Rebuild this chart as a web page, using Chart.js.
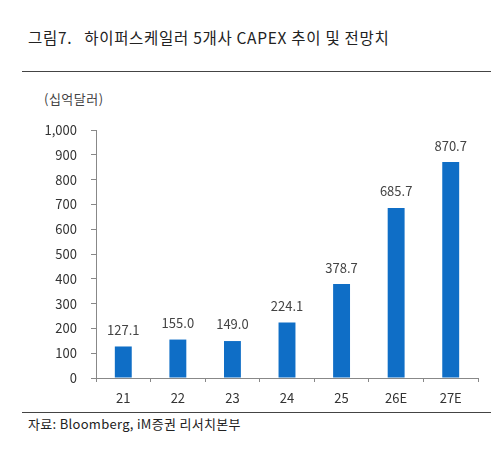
<!DOCTYPE html>
<html>
<head>
<meta charset="utf-8">
<script src="https://cdn.jsdelivr.net/npm/chart.js@4"></script>
<style>
  html, body { margin: 0; padding: 0; background: #fff; }
  body { width: 500px; height: 472px; position: relative; overflow: hidden; font-family: "Noto Sans CJK KR", "Noto Sans", sans-serif; color: #222; }
  #title { position: absolute; left: 28px; top: 26px; font-size: 15.5px; letter-spacing: 0.7px; white-space: pre; }
  #title span { margin-left: 12px; }
  .rule { position: absolute; left: 22px; width: 469px; height: 0; border-top: 1.5px solid #444; }
  #unit { position: absolute; left: 44px; top: 89px; font-size: 13px; color: #444; letter-spacing: 0.5px; }
  #source { position: absolute; left: 28px; top: 414px; font-size: 13px; color: #222; letter-spacing: 0.3px; }
  #wrap { position: absolute; left: 0; top: 0; width: 500px; height: 472px; }
</style>
</head>
<body>
<div id="title">그림7.<span>하이퍼스케일러 5개사 CAPEX 추이 및 전망치</span></div>
<div class="rule" style="top:71px"></div>
<div id="unit">(십억달러)</div>
<div class="rule" style="top:412px"></div>
<div id="source">자료: Bloomberg, iM증권 리서치본부</div>
<div id="wrap"><canvas id="chart" width="500" height="472"></canvas></div>
<script>
const years = ['21', '22', '23', '24', '25', '26E', '27E'];
const capex = [127.1, 155.0, 149.0, 224.1, 378.7, 685.7, 870.7];
const yMin = 0;
const yMax = 1000;
const yStep = 100;

const ctx = document.getElementById('chart').getContext('2d');

// 막대 위 값 표시
const valueLabels = {
    id: 'valueLabels',
    afterDatasetsDraw(chart) {
        const c = chart.ctx;
        const meta = chart.getDatasetMeta(0);
        c.save();
        c.font = '13px "Noto Sans CJK KR", "Noto Sans", sans-serif';
        c.fillStyle = '#444';
        c.textAlign = 'center';
        c.textBaseline = 'bottom';
        meta.data.forEach((bar, i) => {
            c.fillText(capex[i].toFixed(1), bar.x, bar.y - 10);
        });
        c.restore();
    }
};

new Chart(ctx, {
    type: 'bar',
    data: {
        labels: years,
        datasets: [{
            data: capex,
            backgroundColor: '#0f6ec6',
            barPercentage: 0.31,
            categoryPercentage: 1.0
        }]
    },
    options: {
        responsive: false,
        animation: false,
        layout: { padding: { top: 130, right: 22, left: 0, bottom: 0 } },
        plugins: { legend: { display: false }, tooltip: { enabled: false } },
        scales: {
            y: {
                min: yMin,
                max: yMax,
                ticks: {
                    stepSize: yStep,
                    padding: 14,
                    color: '#333',
                    font: { size: 13, family: '"Noto Sans CJK KR", "Noto Sans", sans-serif' },
                    callback: v => v.toLocaleString('en-US')
                },
                grid: { drawOnChartArea: false, drawTicks: true, tickLength: 5, color: '#888' },
                border: { color: '#888', width: 1 },
                afterFit: scale => { scale.width = 96; }
            },
            x: {
                ticks: {
                    padding: 8,
                    color: '#333',
                    font: { size: 13, family: '"Noto Sans CJK KR", "Noto Sans", sans-serif' }
                },
                grid: { drawOnChartArea: false, drawTicks: true, tickLength: 4, color: '#888', offset: true },
                border: { color: '#888', width: 1 },
                afterFit: scale => { scale.height = 94; }
            }
        }
    },
    plugins: [valueLabels]
});
</script>
</body>
</html>
